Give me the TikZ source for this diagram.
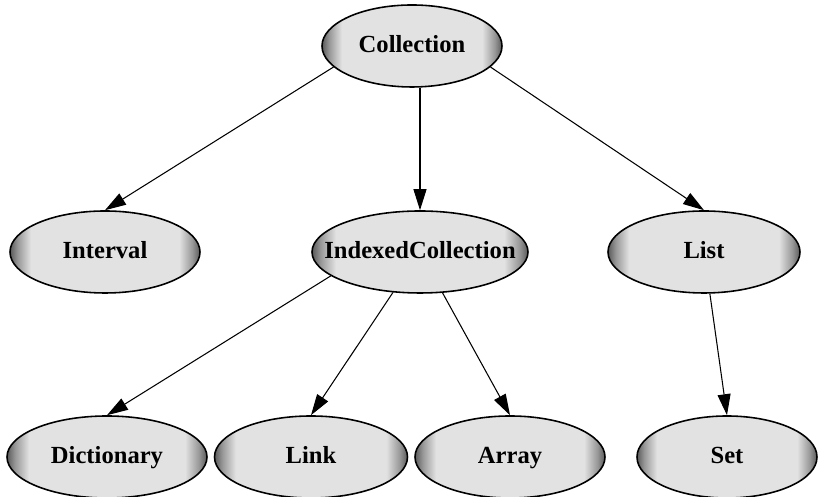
\documentclass[tikz,border=0pt]{standalone}
\usepackage{fontspec}
\setmainfont{Liberation Serif}
\usetikzlibrary{arrows.meta,shapes.geometric}
\definecolor{rimdark}{RGB}{90,90,90}
\definecolor{rimlight}{RGB}{226,226,226}
%% bords sombres a gauche et a droite, centre clair
\pgfdeclarehorizontalshading{rimshade}{100bp}{color(0bp)=(rimdark); color(25bp)=(rimdark); color(27bp)=(rimdark!55!rimlight); color(30.5bp)=(rimlight); color(69.5bp)=(rimlight); color(73bp)=(rimdark!55!rimlight); color(75bp)=(rimdark); color(100bp)=(rimdark)}
\tikzset{
	classe/.style={ellipse,draw=black,line width=0.9pt,shading=rimshade,
		minimum height=1.64cm,inner ysep=0pt,inner xsep=-12pt,
		text height=1.9ex,text depth=0.2ex,
		font=\fontsize{14}{16}\selectfont\bfseries},
	herite/.style={-{Triangle[length=4.2mm,width=2.6mm]},line width=0.6pt}
}

\begin{document}
\begin{tikzpicture}
	\useasboundingbox (0,0) rectangle (16.36,9.94);
	%% racine
	\node[classe,minimum width=3.6cm] (collection) at (8.24,9.02) {Collection};
	%% deuxieme niveau
	\node[classe,minimum width=3.8cm] (interval) at (2.10,4.90) {Interval};
	\node[classe,minimum width=4.32cm] (indexed) at (8.40,4.90) {IndexedCollection};
	\node[classe,minimum width=3.84cm] (list) at (14.08,4.90) {List};
	%% feuilles
	\node[classe,minimum width=4.0cm] (dictionary) at (2.14,0.80) {Dictionary};
	\node[classe,minimum width=3.86cm] (link) at (6.22,0.80) {Link};
	\node[classe,minimum width=3.8cm] (array) at (10.20,0.80) {Array};
	\node[classe,minimum width=3.6cm] (set) at (14.54,0.80) {Set};
	
	%% heritage
	\draw[herite] (collection.195) -- (interval.north);
	\draw[herite] (collection.south -| indexed.north) -- (indexed.north);
	\draw[herite] (collection.345) -- (list.north);
	\draw[herite] (indexed.195) -- (dictionary.north);
	\draw[herite] (indexed) -- (link.north);
	\draw[herite] (indexed) -- (array.north);
	\draw[herite] (list) -- (set.north);
\end{tikzpicture}
\end{document}
